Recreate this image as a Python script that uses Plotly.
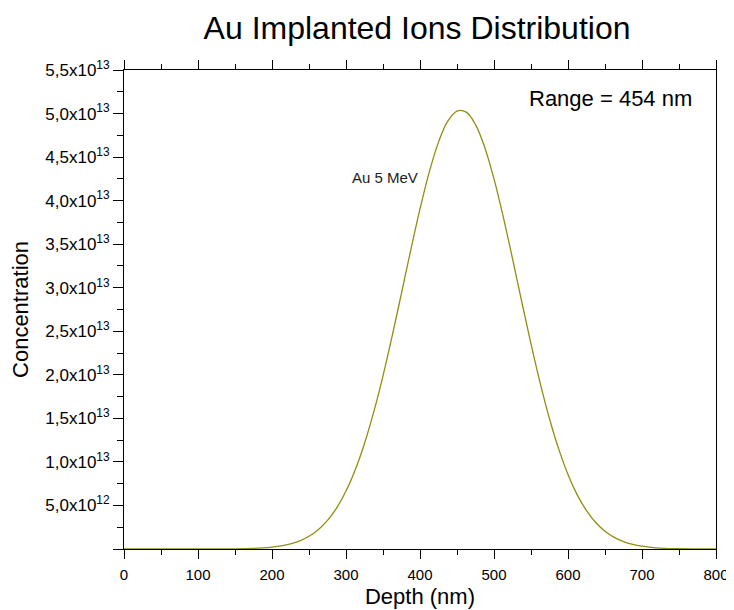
import plotly.graph_objects as go

# Data
depth_nm = [0, 50, 100, 150, 175, 187.5, 200, 212.5, 225, 237.5, 250, 262.5, 275, 287.5,
            300, 312.5, 325, 337.5, 350, 362.5, 375, 387.5, 400, 412.5, 425, 437.5,
            450, 462.5, 475, 487.5, 500, 512.5, 525, 537.5, 550, 562.5, 575, 587.5,
            600, 612.5, 625, 637.5, 650, 662.5, 675, 687.5, 700, 712.5, 725, 750,
            775, 800]
concentration_e13 = [0, 0, 0, 0.002, 0.007, 0.012, 0.021, 0.035, 0.058, 0.093, 0.146, 0.221,
                     0.328, 0.473, 0.665, 0.910, 1.212, 1.574, 1.989, 2.449, 2.938, 3.432,
                     3.905, 4.328, 4.672, 4.912, 5.029, 5.016, 4.873, 4.611, 4.249, 3.814,
                     3.334, 2.839, 2.355, 1.902, 1.496, 1.147, 0.856, 0.622, 0.441, 0.304,
                     0.204, 0.133, 0.085, 0.053, 0.032, 0.019, 0.011, 0.003, 0.001, 0]
concentration = [v * 1e13 for v in concentration_e13]

y_tick_vals = [0, 0.5e13, 1.0e13, 1.5e13, 2.0e13, 2.5e13, 3.0e13, 3.5e13, 4.0e13, 4.5e13, 5.0e13, 5.5e13]
y_tick_text = ["", "5,0x10<sup>12</sup>", "1,0x10<sup>13</sup>", "1,5x10<sup>13</sup>",
               "2,0x10<sup>13</sup>", "2,5x10<sup>13</sup>", "3,0x10<sup>13</sup>",
               "3,5x10<sup>13</sup>", "4,0x10<sup>13</sup>", "4,5x10<sup>13</sup>",
               "5,0x10<sup>13</sup>", "5,5x10<sup>13</sup>"]
x_tick_vals = [0, 100, 200, 300, 400, 500, 600, 700, 800]

series_label = "Au 5 MeV"
range_label = "Range = 454 nm"
title_text = "Au Implanted Ions Distribution"

FONT = "Arial, Liberation Sans, sans-serif"

# page body has an 8 px margin, so the figure is drawn 8 px in from the corner
W, H = 726, 602

fig = go.Figure()
fig.add_trace(go.Scatter(
    x=depth_nm, y=concentration, mode="lines",
    line=dict(color="#8f8f12", width=1.3, shape="spline", smoothing=1.0),
    showlegend=False, hoverinfo="skip",
))

fig.update_layout(
    width=W, height=H,
    margin=dict(l=116, r=18, t=62, b=61),
    paper_bgcolor="white", plot_bgcolor="white",
    font=dict(family=FONT, color="black"),
    title=dict(text=title_text, x=0.495, xref="paper", xanchor="center",
               y=1 - 20 / H, yanchor="middle", yref="container",
               font=dict(size=32, family=FONT, color="black")),
    xaxis=dict(range=[0, 800], tickvals=x_tick_vals, ticks="outside", ticklen=9,
               tickcolor="black", tickwidth=1, showline=True, linecolor="black",
               linewidth=1, showgrid=False, zeroline=False, mirror="allticks",
               automargin=False, ticklabelstandoff=3,
               tickfont=dict(size=15, family=FONT),
               minor=dict(ticks="outside", ticklen=5, dtick=50, tickcolor="black", showgrid=False),
               title=dict(text="Depth (nm)", font=dict(size=22, family=FONT), standoff=6)),
    yaxis=dict(range=[0, 5.5e13], tickvals=y_tick_vals, ticktext=y_tick_text,
               ticks="outside", ticklen=10, tickcolor="black", tickwidth=1,
               showline=True, linecolor="black", linewidth=1, mirror=True,
               automargin=False,
               showgrid=False, zeroline=False, tickfont=dict(size=17, family=FONT),
               minor=dict(ticks="outside", ticklen=6, dtick=0.25e13, tickcolor="black", showgrid=False),
               title=dict(text="Concentration", font=dict(size=22, family=FONT), standoff=12)),
    annotations=[
        dict(text=range_label, x=770, y=5.17e13, xref="x", yref="y", showarrow=False,
             font=dict(size=22, family=FONT, color="black"), xanchor="right", yanchor="middle"),
        dict(text=series_label, x=353, y=4.27e13, xref="x", yref="y", showarrow=False,
             font=dict(size=15, family=FONT, color="#222222"), xanchor="center", yanchor="middle"),
    ],
)

fig.write_html("out.html")
